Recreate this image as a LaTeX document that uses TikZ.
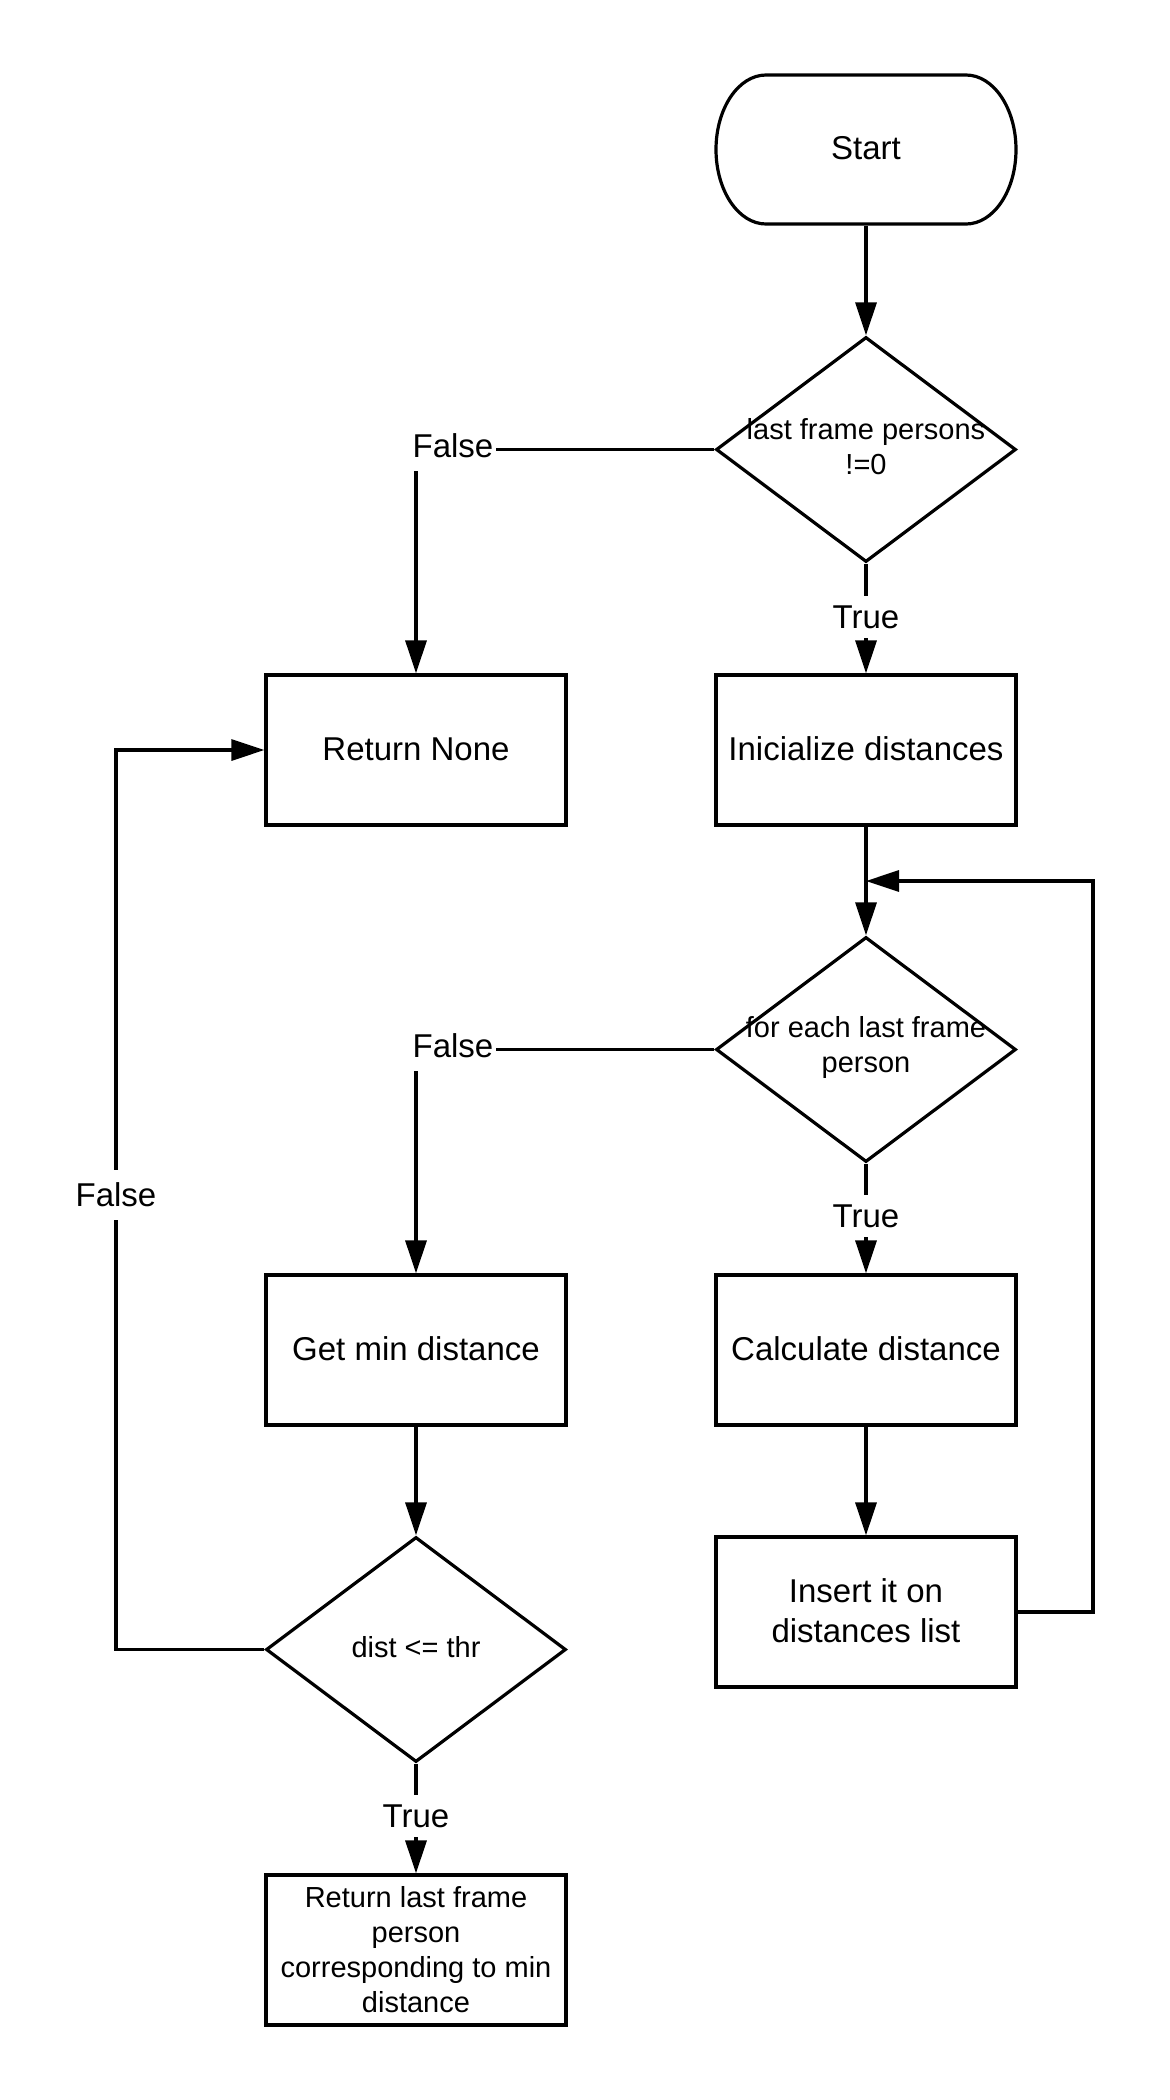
\documentclass[tikz,border=0pt]{standalone}
\usepackage{fontspec}
\setmainfont{Liberation Sans}
\usetikzlibrary{shapes.geometric,arrows.meta}
\newcommand{\bigtxt}{\fontsize{16.5pt}{20pt}\selectfont}
\newcommand{\smalltxt}{\fontsize{14.5pt}{17.5pt}\selectfont}
\newcommand{\btline}[1]{\rule[-1pt]{0pt}{12pt}\smash{#1}}
\begin{document}
\begin{tikzpicture}[x=0.5pt,y=-0.5pt,line width=1.6pt,
  box/.style={draw,rectangle,minimum width=150pt,minimum height=75pt,inner sep=1pt,align=center,font=\bigtxt},
  smallbox/.style={box,font=\smalltxt},
  dia/.style={draw,diamond,minimum width=150pt,minimum height=112.5pt,inner sep=0pt},
  diatext/.style={align=center,font=\smalltxt,inner sep=0pt},
  termnode/.style={rectangle,minimum width=150.5pt,minimum height=74.5pt,inner sep=0pt,font=\bigtxt},
  lbl/.style={fill=white,font=\bigtxt,inner xsep=1.5pt,inner ysep=0pt},
  arr/.style={-{Triangle[length=16.5pt,width=10.5pt]}}]
\useasboundingbox (0,0) rectangle (1170,2100);
% start terminator
\node[termnode] (st) at (866,149.5) {\btline{Start}};
\draw (766,75) -- (966,75) .. controls (993.6,75) and (1016,108.4) .. (1016,149.5)
  .. controls (1016,190.6) and (993.6,224) .. (966,224) -- (766,224)
  .. controls (738.4,224) and (716,190.6) .. (716,149.5)
  .. controls (716,108.4) and (738.4,75) .. (766,75) -- cycle;
% decisions
\node[dia] (d1) at (866,449.5) {};
\node[diatext] (d1t) at (866,447) {last frame persons\\!=0};
\node[dia] (d2) at (866,1049.5) {};
\node[diatext] (d2t) at (866,1047) {for each last frame\\person};
\node[dia] (d3) at (416,1649.5) {};
\node[diatext] (d3t) at (416,1647) {dist <= thr};
% process boxes
\node[box] (rn) at (416,750) {\btline{Return None}};
\node[box] (init) at (866,750) {\btline{Inicialize distances}};
\node[box] (gm) at (416,1350) {\btline{Get min distance}};
\node[box] (calc) at (866,1350) {\btline{Calculate distance}};
\node[box] (ins) at (866,1612) {\btline{Insert it on}\\\btline{distances list}};
\node[smallbox] (fin) at (416,1950) {Return last frame\\person\\corresponding to min\\distance};
% loop corners
\coordinate (j) at (866,881);
\coordinate (rl) at (1093,881);
\coordinate (ll) at (116,750);
% connectors
\draw[arr] (st) -- (d1);
\draw[arr] (d1.west) -| (rn.north);
\draw[arr] (d1) -- (init);
\draw[arr] (init) -- (d2);
\draw[arr] (d2.west) -| (gm.north);
\draw[arr] (d2) -- (calc);
\draw[arr] (calc) -- (ins);
\draw[arr] (ins.east) -| (rl) -- (j);
\draw[arr] (gm) -- (d3);
\draw[arr] (d3.west) -| (ll) -- (rn.west);
\draw[arr] (d3) -- (fin);
% connector labels
\node[lbl,minimum height=25pt] (lf1) at (453,446) {False};
\node[lbl,minimum height=21pt] (lt1) at (866,617) {True};
\node[lbl,minimum height=25pt] (lf2) at (453,1046) {False};
\node[lbl,minimum height=21pt] (lt2) at (866,1216) {True};
\node[lbl,minimum height=25pt] (lf3) at (116,1195) {False};
\node[lbl,minimum height=21pt] (lt3) at (416,1816) {True};
\end{tikzpicture}
\end{document}
